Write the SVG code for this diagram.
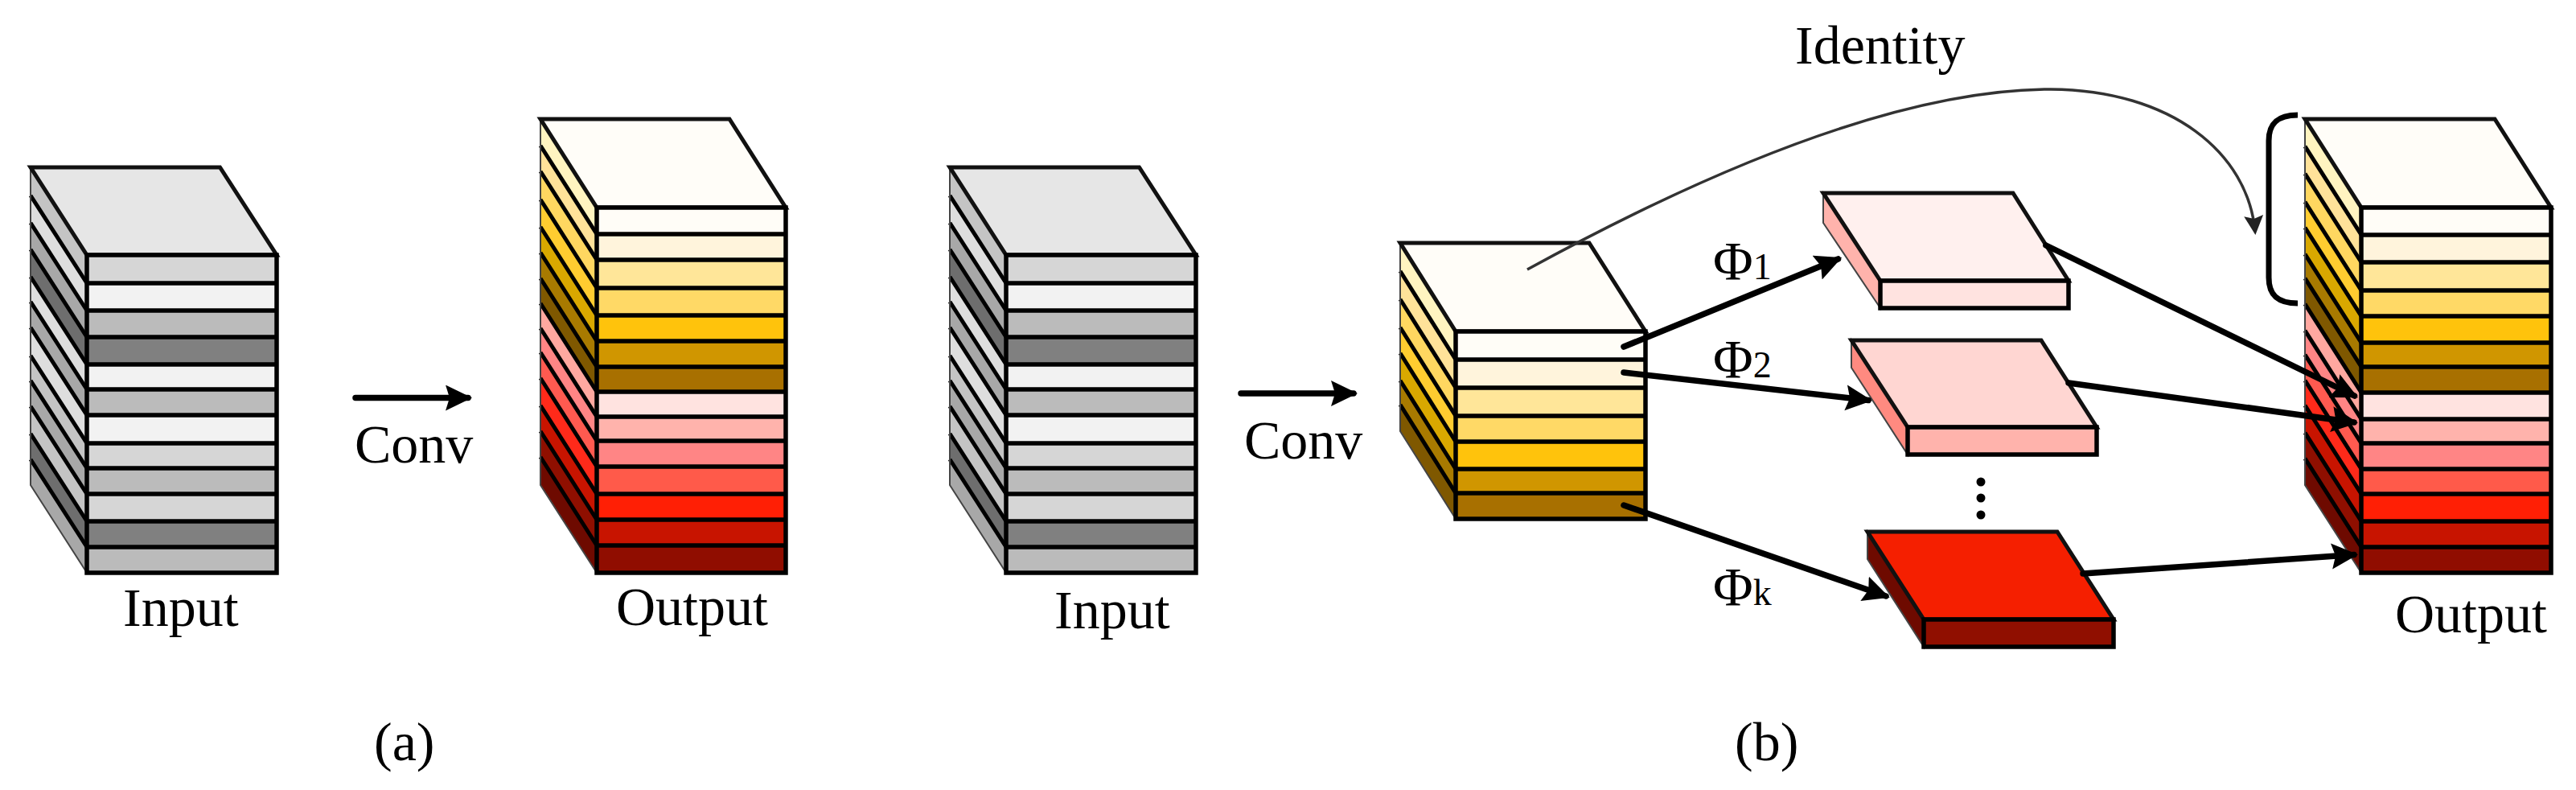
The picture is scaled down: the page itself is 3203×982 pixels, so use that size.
<svg xmlns="http://www.w3.org/2000/svg" width="3203" height="982" viewBox="0 0 3203 982">
<style>
text{font-family:"Liberation Serif","Times New Roman",serif;font-size:68px;fill:#000}
.sub{font-size:46px}
.ln{fill:none;stroke:#000;stroke-width:5.500}
.sl{fill:none;stroke:#000;stroke-width:5;vector-effect:non-scaling-stroke}
.ed{fill:none;stroke:#444;stroke-width:2}
.tp{stroke:#111;stroke-width:5;stroke-linejoin:miter}
.ar{fill:none;stroke:#000;stroke-width:7.500;stroke-linecap:round}
.th{fill:none;stroke:#333;stroke-width:3.500}
.g1{fill:#d6d6d6}.g2{fill:#f2f2f2}.g3{fill:#bbb}.g4{fill:#808080}
.s1{fill:#c4c4c4}.s2{fill:#dedede}.s3{fill:#a8a8a8}.s4{fill:#6e6e6e}
.o1{fill:#fffdf7}.o2{fill:#fff4dc}.o3{fill:#ffe699}.o4{fill:#ffd966}.o5{fill:#ffc30c}.o6{fill:#d09600}.o7{fill:#a87000}
.r1{fill:#ffe3e0}.r2{fill:#ffb3ac}.r3{fill:#ff8585}.r4{fill:#ff5a4a}.r5{fill:#ff1f05}.r6{fill:#c81400}.r7{fill:#900d00}
.p1{fill:#fff4c0}.p2{fill:#ffe299}.p3{fill:#ffd760}.p4{fill:#ffcc30}.p5{fill:#d9a800}.p6{fill:#a87a00}.p7{fill:#7f5800}
.q1{fill:#ffa8a0}.q2{fill:#ff8585}.q3{fill:#ff5a50}.q4{fill:#ff2a1a}.q5{fill:#c81400}.q6{fill:#8f0f00}.q7{fill:#6e0a00}
</style>
<defs>
<marker id="ah" markerUnits="userSpaceOnUse" markerWidth="36" markerHeight="34" refX="28" refY="16" orient="auto"><path d="M0 0L33 16L0 32L5 16Z" fill="#000"/></marker>
<marker id="ahs" markerUnits="userSpaceOnUse" markerWidth="28" markerHeight="28" refX="20" refY="12" orient="auto"><path d="M0 0L24 12L0 24L4 12Z" fill="#222"/></marker>
<g id="greystack">
<g transform="matrix(1 1.5571 0 1 0 -168.17)">
<rect class="s1" x="38" y="317" width="70" height="35"/><rect class="s2" x="38" y="352" width="70" height="34"/><rect class="s3" x="38" y="386" width="70" height="33"/><rect class="s4" x="38" y="419" width="70" height="34"/><rect class="s2" x="38" y="453" width="70" height="31"/><rect class="s3" x="38" y="484" width="70" height="32"/><rect class="s2" x="38" y="516" width="70" height="35"/><rect class="s1" x="38" y="551" width="70" height="31"/><rect class="s3" x="38" y="582" width="70" height="32"/><rect class="s1" x="38" y="614" width="70" height="34"/><rect class="s4" x="38" y="648" width="70" height="32"/><rect class="s3" x="38" y="680" width="70" height="32"/>
<path class="sl" d="M38 352H108M38 386H108M38 419H108M38 453H108M38 484H108M38 516H108M38 551H108M38 582H108M38 614H108M38 648H108M38 680H108"/>
</g>
<path class="ed" d="M38 208V603L108 712"/>
<path class="tp" fill="#e6e6e6" d="M38 208H273.500L344 317H108Z"/>
<rect class="g1" x="108" y="317" width="236" height="35"/><rect class="g2" x="108" y="352" width="236" height="34"/><rect class="g3" x="108" y="386" width="236" height="33"/><rect class="g4" x="108" y="419" width="236" height="34"/><rect class="g2" x="108" y="453" width="236" height="31"/><rect class="g3" x="108" y="484" width="236" height="32"/><rect class="g2" x="108" y="516" width="236" height="35"/><rect class="g1" x="108" y="551" width="236" height="31"/><rect class="g3" x="108" y="582" width="236" height="32"/><rect class="g1" x="108" y="614" width="236" height="34"/><rect class="g4" x="108" y="648" width="236" height="32"/><rect class="g3" x="108" y="680" width="236" height="32"/>
<path class="ln" d="M108 317H344V712H108ZM108 352H344M108 386H344M108 419H344M108 453H344M108 484H344M108 516H344M108 551H344M108 582H344M108 614H344M108 648H344M108 680H344"/>
</g>
</defs>

<g id="input-a"><use href="#greystack"/><text x="153" y="778">Input</text></g>

<g id="output-a">
<g transform="matrix(1 1.5714 0 1 0 -1166)">
<rect class="p1" x="672" y="258" width="70" height="33"/><rect class="p2" x="672" y="291" width="70" height="32"/><rect class="p3" x="672" y="323" width="70" height="35"/><rect class="p4" x="672" y="358" width="70" height="34"/><rect class="p5" x="672" y="392" width="70" height="32"/><rect class="p6" x="672" y="424" width="70" height="32"/><rect class="p7" x="672" y="456" width="70" height="31"/><rect class="q1" x="672" y="487" width="70" height="31"/><rect class="q2" x="672" y="518" width="70" height="30"/><rect class="q3" x="672" y="548" width="70" height="32"/><rect class="q4" x="672" y="580" width="70" height="34"/><rect class="q5" x="672" y="614" width="70" height="32"/><rect class="q6" x="672" y="646" width="70" height="32"/><rect class="q7" x="672" y="678" width="70" height="34"/>
<path class="sl" d="M672 291H742M672 323H742M672 358H742M672 392H742M672 424H742M672 456H742M672 487H742M672 518H742M672 548H742M672 580H742M672 614H742M672 646H742M672 678H742"/>
</g>
<path class="ed" d="M672 148V603L742 712"/>
<path class="tp" fill="#fffdf8" d="M672 148H907L977 258H742Z"/>
<rect class="o1" x="742" y="258" width="235" height="33"/><rect class="o2" x="742" y="291" width="235" height="32"/><rect class="o3" x="742" y="323" width="235" height="35"/><rect class="o4" x="742" y="358" width="235" height="34"/><rect class="o5" x="742" y="392" width="235" height="32"/><rect class="o6" x="742" y="424" width="235" height="32"/><rect class="o7" x="742" y="456" width="235" height="31"/><rect class="r1" x="742" y="487" width="235" height="31"/><rect class="r2" x="742" y="518" width="235" height="30"/><rect class="r3" x="742" y="548" width="235" height="32"/><rect class="r4" x="742" y="580" width="235" height="34"/><rect class="r5" x="742" y="614" width="235" height="32"/><rect class="r6" x="742" y="646" width="235" height="32"/><rect class="r7" x="742" y="678" width="235" height="34"/>
<path class="ln" d="M742 258H977V712H742ZM742 291H977M742 323H977M742 358H977M742 392H977M742 424H977M742 456H977M742 487H977M742 518H977M742 548H977M742 580H977M742 614H977M742 646H977M742 678H977"/>
<text x="766" y="777">Output</text>
</g>

<g id="input-b"><use href="#greystack" transform="translate(1143 0)"/><text x="1311" y="781">Input</text></g>

<g id="feature-b">
<g transform="matrix(1 1.5942 0 1 0 -2885.5)">
<rect class="p1" x="1741" y="412" width="69" height="35"/><rect class="p2" x="1741" y="447" width="69" height="35"/><rect class="p3" x="1741" y="482" width="69" height="35"/><rect class="p4" x="1741" y="517" width="69" height="32"/><rect class="p5" x="1741" y="549" width="69" height="34"/><rect class="p6" x="1741" y="583" width="69" height="30"/><rect class="p7" x="1741" y="613" width="69" height="32"/>
<path class="sl" d="M1741 447H1810M1741 482H1810M1741 517H1810M1741 549H1810M1741 583H1810M1741 613H1810"/>
</g>
<path class="ed" d="M1741 302V536L1810 645"/>
<path class="tp" fill="#fffdf8" d="M1741 302H1976L2046 412H1810Z"/>
<rect class="o1" x="1810" y="412" width="236" height="35"/><rect class="o2" x="1810" y="447" width="236" height="35"/><rect class="o3" x="1810" y="482" width="236" height="35"/><rect class="o4" x="1810" y="517" width="236" height="32"/><rect class="o5" x="1810" y="549" width="236" height="34"/><rect class="o6" x="1810" y="583" width="236" height="30"/><rect class="o7" x="1810" y="613" width="236" height="32"/>
<path class="ln" d="M1810 412H2046V645H1810ZM1810 447H2046M1810 482H2046M1810 517H2046M1810 549H2046M1810 583H2046M1810 613H2046"/>
</g>

<g id="plate-1">
<path d="M2267 240V277L2338 383V349Z" fill="#ffb3ac" stroke="#444" stroke-width="2"/>
<path class="tp" fill="#fff0ee" d="M2267 240H2503L2572 349H2338Z"/>
<rect x="2338" y="349" width="234" height="34" fill="#ffe3e0" stroke="#000" stroke-width="5.500"/>
</g>
<g id="plate-2">
<path d="M2302 423V457L2372 565V531Z" fill="#ff8a80" stroke="#444" stroke-width="2"/>
<path class="tp" fill="#ffd6d2" d="M2302 423H2538L2607 531H2372Z"/>
<rect x="2372" y="531" width="235" height="34" fill="#ffb3ac" stroke="#000" stroke-width="5.500"/>
</g>
<g id="plate-k">
<path d="M2322 661V695L2392 804V770Z" fill="#6e0a00" stroke="#444" stroke-width="2"/>
<path class="tp" fill="#f51f00" d="M2322 661H2558L2628 770H2392Z"/>
<rect x="2392" y="770" width="236" height="34" fill="#900f00" stroke="#000" stroke-width="5.500"/>
</g>
<g id="dots"><circle cx="2463" cy="599" r="5.500"/><circle cx="2463" cy="619" r="5.500"/><circle cx="2463" cy="640" r="5.500"/></g>

<g id="output-b">
<g transform="matrix(1 1.5714 0 1 0 -4613.7)">
<rect class="p1" x="2866" y="258" width="70" height="34"/><rect class="p2" x="2866" y="292" width="70" height="34"/><rect class="p3" x="2866" y="326" width="70" height="35"/><rect class="p4" x="2866" y="361" width="70" height="32"/><rect class="p5" x="2866" y="393" width="70" height="33"/><rect class="p6" x="2866" y="426" width="70" height="30"/><rect class="p7" x="2866" y="456" width="70" height="32"/><rect class="q1" x="2866" y="488" width="70" height="33"/><rect class="q2" x="2866" y="521" width="70" height="30"/><rect class="q3" x="2866" y="551" width="70" height="32"/><rect class="q4" x="2866" y="583" width="70" height="31"/><rect class="q5" x="2866" y="614" width="70" height="34"/><rect class="q6" x="2866" y="648" width="70" height="32"/><rect class="q7" x="2866" y="680" width="70" height="32"/>
<path class="sl" d="M2866 292H2936M2866 326H2936M2866 361H2936M2866 393H2936M2866 426H2936M2866 456H2936M2866 488H2936M2866 521H2936M2866 551H2936M2866 583H2936M2866 614H2936M2866 648H2936M2866 680H2936"/>
</g>
<path class="ed" d="M2866 148V603L2936 712"/>
<path class="tp" fill="#fffdf8" d="M2866 148H3102L3172 258H2936Z"/>
<rect class="o1" x="2936" y="258" width="236" height="34"/><rect class="o2" x="2936" y="292" width="236" height="34"/><rect class="o3" x="2936" y="326" width="236" height="35"/><rect class="o4" x="2936" y="361" width="236" height="32"/><rect class="o5" x="2936" y="393" width="236" height="33"/><rect class="o6" x="2936" y="426" width="236" height="30"/><rect class="o7" x="2936" y="456" width="236" height="32"/><rect class="r1" x="2936" y="488" width="236" height="33"/><rect class="r2" x="2936" y="521" width="236" height="30"/><rect class="r3" x="2936" y="551" width="236" height="32"/><rect class="r4" x="2936" y="583" width="236" height="31"/><rect class="r5" x="2936" y="614" width="236" height="34"/><rect class="r6" x="2936" y="648" width="236" height="32"/><rect class="r7" x="2936" y="680" width="236" height="32"/>
<path class="ln" d="M2936 258H3172V712H2936ZM2936 292H3172M2936 326H3172M2936 361H3172M2936 393H3172M2936 426H3172M2936 456H3172M2936 488H3172M2936 521H3172M2936 551H3172M2936 583H3172M2936 614H3172M2936 648H3172M2936 680H3172"/>
<text x="2978" y="786">Output</text>
</g>

<g id="connectors">
<path class="ar" d="M442 494.500H582" marker-end="url(#ah)"/>
<path class="ar" d="M1543 489H1683" marker-end="url(#ah)"/>
<path class="ar" d="M2019 431L2285.500 322" marker-end="url(#ah)"/>
<path class="ar" d="M2019 463L2323 497.500" marker-end="url(#ah)"/>
<path class="ar" d="M2019 628L2345 741" marker-end="url(#ah)"/>
<path class="ar" d="M2544 305L2927.500 492" marker-end="url(#ah)"/>
<path class="ar" d="M2572 476L2927 525" marker-end="url(#ah)"/>
<path class="ar" d="M2590 713L2927 689.500" marker-end="url(#ah)"/>
<path class="th" d="M1899 335C2100 225 2350 111 2550 111C2700 112 2795 190 2804 288" marker-end="url(#ahs)"/>
<path d="M2857 143C2830 143 2821 155 2821 175V345C2821 365 2830 377 2857 377" fill="none" stroke="#000" stroke-width="7"/>
</g>

<g id="labels">
<text x="441" y="575">Conv</text>
<text x="1547" y="570">Conv</text>
<text x="2232" y="79">Identity</text>
<text x="2130" y="347">Φ<tspan class="sub">1</tspan></text>
<text x="2130" y="469">Φ<tspan class="sub">2</tspan></text>
<text x="2130" y="752">Φ<tspan class="sub">k</tspan></text>
<text x="465" y="945">(a)</text>
<text x="2157" y="945">(b)</text>
</g>
</svg>
